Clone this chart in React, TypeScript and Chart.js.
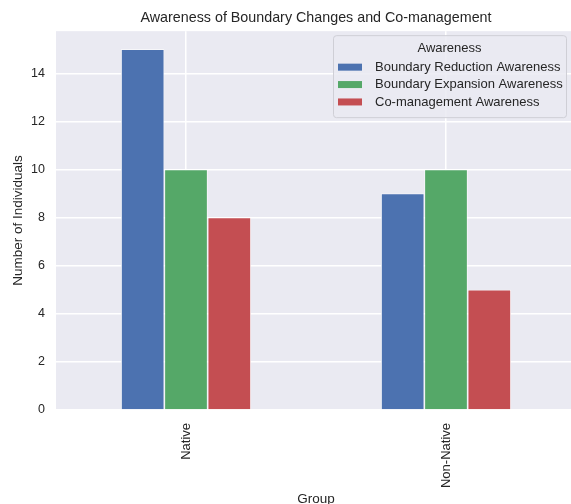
import React, { useEffect, useRef } from "react";
import { Chart, registerables } from "chart.js";

Chart.register(...registerables);

const categories = ["Native", "Non-Native"];
const seriesNames = [
  "Boundary Reduction Awareness",
  "Boundary Expansion Awareness",
  "Co-management Awareness",
];
const reductionValues = [15, 9];
const expansionValues = [10, 10];
const comanagementValues = [8, 5];
const seriesColors = ["#4C72B0", "#55A868", "#C44E52"];
const yTicks = [0, 2, 4, 6, 8, 10, 12, 14];

const FONT = '"Liberation Sans", Arial, Helvetica, sans-serif';
const TEXT = "#262626";

const bgPlugin = {
  id: "plotBg",
  beforeDraw(chart: any) {
    const { ctx, chartArea } = chart;
    ctx.save();
    ctx.fillStyle = "#EAEAF2";
    ctx.fillRect(chartArea.left, chartArea.top, chartArea.right - chartArea.left, chartArea.bottom - chartArea.top);
    ctx.restore();
  },
};

const legendPlugin = {
  id: "boxLegend",
  afterDraw(chart: any) {
    const { ctx, chartArea } = chart;
    const w = 233;
    const h = 82;
    const x = chartArea.right - 10 - w;
    const y = chartArea.top + 4;
    ctx.save();
    ctx.beginPath();
    if (ctx.roundRect) ctx.roundRect(x + 0.5, y + 0.5, w, h, 3);
    else ctx.rect(x + 0.5, y + 0.5, w, h);
    ctx.fillStyle = "rgba(234,234,242,0.85)";
    ctx.fill();
    ctx.strokeStyle = "#CFCFD6";
    ctx.lineWidth = 1;
    ctx.stroke();
    ctx.fillStyle = TEXT;
    ctx.font = `13px ${FONT}`;
    ctx.textAlign = "center";
    ctx.textBaseline = "middle";
    ctx.fillText("Awareness", x + w / 2, y + 13);
    ctx.textAlign = "left";
    chart.data.datasets.forEach((ds: any, i: number) => {
      const cy = y + 32 + i * 17.4;
      ctx.fillStyle = ds.backgroundColor;
      ctx.fillRect(x + 5, cy - 3.5, 24, 7);
      ctx.fillStyle = TEXT;
      ctx.fillText(ds.label, x + 42, cy);
    });
    ctx.restore();
  },
};

export default function App() {
  const ref = useRef<HTMLCanvasElement>(null);
  useEffect(() => {
    if (!ref.current) return;
    const valuesList = [reductionValues, expansionValues, comanagementValues];
    const chart = new Chart(ref.current, {
      type: "bar",
      data: {
        labels: categories,
        datasets: seriesNames.map((name, i) => ({
          label: name,
          data: valuesList[i],
          backgroundColor: seriesColors[i],
          borderColor: "#ffffff",
          borderWidth: 0.8,
          categoryPercentage: 0.5,
          barPercentage: 1.0,
        })),
      },
      options: {
        animation: false,
        responsive: false,
        events: [],
        layout: { padding: { left: 0, right: 14, top: 0, bottom: 0 } },
        plugins: {
          legend: { display: false },
          tooltip: { enabled: false },
          title: {
            display: true,
            fullSize: false,
            text: "Awareness of Boundary Changes and Co-management",
            color: TEXT,
            font: { family: FONT, size: 14.3, weight: "normal" },
            padding: { top: 9, bottom: 5 },
          },
        },
        scales: {
          x: {
            afterFit(scale: any) {
              scale.height = 110;
            },
            grid: { color: "#ffffff", lineWidth: 1.5, offset: false, drawTicks: false },
            border: { display: false },
            ticks: {
              color: TEXT,
              font: { family: FONT, size: 13 },
              minRotation: 90,
              maxRotation: 90,
              padding: 13,
            },
            title: {
              display: true,
              text: "Group",
              color: TEXT,
              font: { family: FONT, size: 13.5 },
              padding: { top: 4, bottom: 13 },
            },
          },
          y: {
            min: 0,
            max: 15.75,
            afterFit(scale: any) {
              scale.width = 56;
            },
            afterBuildTicks(scale: any) {
              scale.ticks = yTicks.map((v) => ({ value: v }));
            },
            grid: { color: "#ffffff", lineWidth: 1.5, drawTicks: false },
            border: { display: false },
            ticks: {
              color: TEXT,
              font: { family: FONT, size: 12.5 },
              padding: 11,
              includeBounds: false,
            },
            title: {
              display: true,
              text: "Number of Individuals",
              color: TEXT,
              font: { family: FONT, size: 13.5 },
              padding: { top: 10, bottom: 0 },
            },
          },
        },
      },
      plugins: [bgPlugin, legendPlugin],
    });
    return () => chart.destroy();
  }, []);
  return (
    <div style={{ position: "absolute", left: 0, top: 0, width: 571, height: 504, overflow: "hidden", background: "#fff" }}>
      <canvas ref={ref} width={590} height={520} style={{ display: "block", width: 590, height: 520 }} />
    </div>
  );
}
